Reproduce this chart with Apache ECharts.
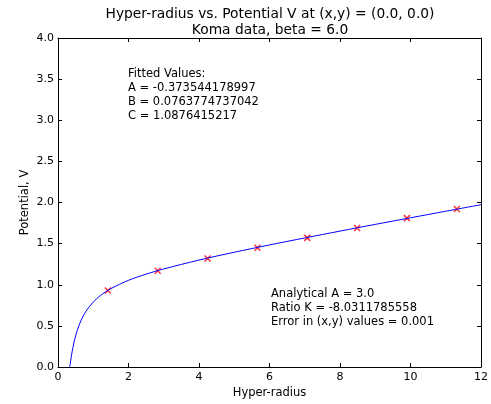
<!DOCTYPE html>
<html><head><meta charset="utf-8">
<script src="https://cdn.jsdelivr.net/npm/echarts@6/dist/echarts.min.js"></script>
<style>html,body{margin:0;padding:0;background:#fff}#c{width:491px;height:404px}</style>
</head><body><div id="c"></div>
<script>
// measured data points (hyper-radius, potential)
const pointR = [1.414, 2.828, 4.243, 5.657, 7.071, 8.485, 9.899, 11.314];
const pointV = [0.93, 1.17, 1.32, 1.45, 1.57, 1.69, 1.81, 1.92];
// fitted curve
const curveR = [0.33, 0.35, 0.37, 0.4, 0.45, 0.5, 0.6, 0.7, 0.8, 1.0, 1.2, 1.5, 2, 2.5, 3, 4, 5, 6, 7, 8, 9, 10, 11, 12];
const curveV = [0.0, 0.047, 0.106, 0.184, 0.292, 0.379, 0.511, 0.608, 0.682, 0.79, 0.868, 0.953, 1.054, 1.129, 1.192, 1.30, 1.395, 1.484, 1.569, 1.652, 1.734, 1.814, 1.894, 1.973];
const xTicks = [0, 2, 4, 6, 8, 10, 12];
const yTicks = [0, 0.5, 1, 1.5, 2, 2.5, 3, 3.5, 4];
const titleLines = ["Hyper-radius vs. Potential V at (x,y) = (0.0, 0.0)", "Koma data, beta = 6.0"];
const fitText = ["Fitted Values:", "A = -0.373544178997", "B = 0.0763774737042", "C = 1.0876415217"];
const anaText = ["Analytical A = 3.0", "Ratio K = -8.0311785558", "Error in (x,y) values = 0.001"];

const FONT = "DejaVu Sans";
const chart = echarts.init(document.getElementById('c'), null, {renderer: 'canvas'});
const tick = {show: true, inside: true, length: 4, lineStyle: {color: '#000', width: 1}};
const lineStyleAxis = {color: '#000', width: 1};
function baseX(pos, labels) {
  return {type: 'value', min: xTicks[0], max: xTicks[xTicks.length - 1], interval: 2, position: pos,
    axisLine: {show: true, onZero: false, lineStyle: lineStyleAxis}, axisTick: tick,
    axisLabel: {show: labels, color: '#000', fontFamily: FONT, fontSize: 11, margin: 5},
    splitLine: {show: false}};
}
function baseY(pos, labels) {
  return {type: 'value', min: yTicks[0], max: yTicks[yTicks.length - 1], interval: 0.5, position: pos,
    axisLine: {show: true, onZero: false, lineStyle: lineStyleAxis}, axisTick: tick,
    axisLabel: {show: labels, color: '#000', fontFamily: FONT, fontSize: 11, margin: 4,
      formatter: v => v.toFixed(1)},
    splitLine: {show: false}};
}
const xA = baseX('bottom', true);
xA.name = 'Hyper-radius'; xA.nameLocation = 'middle'; xA.nameGap = 20; xA.nameMoveOverlap = false;
xA.nameTextStyle = {color: '#000', fontFamily: FONT, fontSize: 11.5, verticalAlign: 'top'};
const yA = baseY('left', true);
yA.name = 'Potential, V'; yA.nameLocation = 'middle'; yA.nameGap = 27; yA.nameRotate = 90; yA.nameMoveOverlap = false;
yA.nameTextStyle = {color: '#000', fontFamily: FONT, fontSize: 11.5, verticalAlign: 'bottom'};

const xMark = 'path://M0,0 L10,10 M10,0 L0,10';
chart.setOption({
  animation: false,
  backgroundColor: '#fff',
  grid: {left: 58, right: 7, top: 38, bottom: 36},
  xAxis: [xA, baseX('top', false)],
  yAxis: [yA, baseY('right', false)],
  graphic: [
    {type: 'text', x: 270, y: 6, style: {text: titleLines.join('\n'), font: '13.8px "DejaVu Sans"', fill: '#000', lineHeight: 16, align: 'center'}},
    {type: 'text', left: 128, top: 67, style: {text: fitText.join('\n'), font: '11.5px "DejaVu Sans"', fill: '#000', lineHeight: 14}},
    {type: 'text', left: 271, top: 287, style: {text: anaText.join('\n'), font: '11.5px "DejaVu Sans"', fill: '#000', lineHeight: 14}}
  ],
  series: [
    {type: 'line', xAxisIndex: 0, yAxisIndex: 0, data: curveR.map((r, i) => [r, curveV[i]]),
      smooth: 0.3, showSymbol: false, lineStyle: {color: '#0000ff', width: 1}, clip: true},
    {type: 'scatter', xAxisIndex: 0, yAxisIndex: 0, data: pointR.map((r, i) => [r, pointV[i]]),
      symbol: xMark, symbolSize: 6, itemStyle: {color: 'none', borderColor: '#ff0000', borderWidth: 1.5}}
  ]
});
</script></body></html>
